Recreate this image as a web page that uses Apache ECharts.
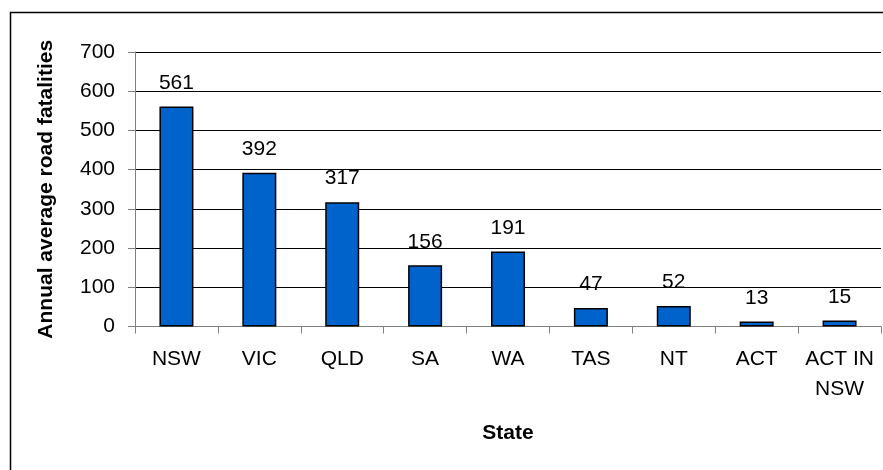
<!DOCTYPE html>
<html>
<head>
<meta charset="utf-8">
<script src="https://cdn.jsdelivr.net/npm/echarts@6/dist/echarts.min.js"></script>
<style>html,body{margin:0;padding:0;background:#fff}#c{width:883px;height:470px}</style>
</head>
<body>
<div id="c"></div>
<script>
const categories = ['NSW','VIC','QLD','SA','WA','TAS','NT','ACT','ACT IN NSW'];
const values = [561,392,317,156,191,47,52,13,15];
const yTicks = [0,100,200,300,400,500,600,700];

const chart = echarts.init(document.getElementById('c'), null, {renderer:'canvas'});
const font = 'Liberation Sans, Arial, sans-serif';
chart.setOption({
  animation:false,
  backgroundColor:'#fff',
  graphic:[{type:'rect', shape:{x:10.5,y:12.5,width:900,height:500}, style:{fill:null, stroke:'#000', lineWidth:1.5}, z:-1}],
  grid:{left:135, right:2, top:52, bottom:143.5, containLabel:false},
  xAxis:{
    type:'category', data:categories,
    name:'State', nameLocation:'middle', nameGap:96,
    nameTextStyle:{fontFamily:font, fontSize:21, fontWeight:'bold', color:'#000'},
    axisLine:{lineStyle:{color:'#808080', width:1}},
    axisTick:{show:true, length:7, lineStyle:{color:'#808080'}},
    axisLabel:{fontFamily:font, fontSize:21, color:'#000', margin:18, lineHeight:30, interval:0,
      formatter:v=>v.replace('ACT IN NSW','ACT IN\nNSW')}
  },
  yAxis:{
    type:'value', min:yTicks[0], max:yTicks[yTicks.length-1], interval:100,
    name:'Annual average road fatalities', nameLocation:'middle', nameGap:78,
    nameTextStyle:{fontFamily:font, fontSize:21, fontWeight:'bold', color:'#000'},
    axisLine:{show:true, lineStyle:{color:'#808080'}},
    axisTick:{show:true, length:7, lineStyle:{color:'#808080'}},
    axisLabel:{fontFamily:font, fontSize:21, color:'#000', margin:20},
    splitLine:{show:true, lineStyle:{color:'#000', width:1}}
  },
  series:[{
    type:'bar', data:values, barWidth:34,
    itemStyle:{color:'#0063CC', borderColor:'#000', borderWidth:1.5},
    label:{show:true, position:'top', distance:13, fontFamily:font, fontSize:21, color:'#000'}
  }]
});
</script>
</body>
</html>
